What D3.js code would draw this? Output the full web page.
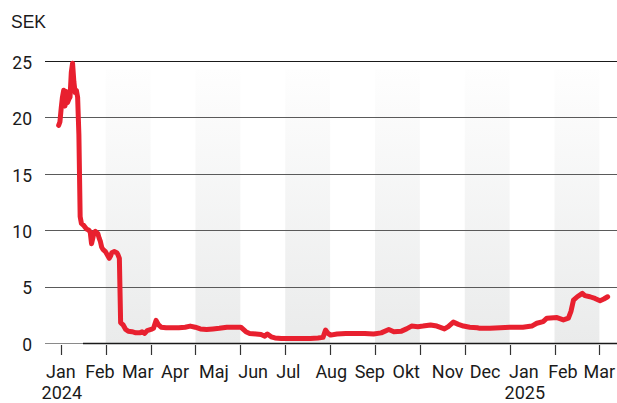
<!DOCTYPE html>
<html lang="sv">
<head>
  <meta charset="utf-8">
  <script src="https://d3js.org/d3.v7.min.js"></script>
  <style>
    body { margin: 0; background: #fff; }
    text { font-family: Roboto, "Liberation Sans", sans-serif; fill: #1a1a1a; }
  </style>
</head>
<body>
  <svg id="chart" width="617" height="403"></svg>
  <script>
    // kurs i SEK
    const dates = [
      "2024-01-11", "2024-01-12", "2024-01-13", "2024-01-14", "2024-01-15", "2024-01-16",
      "2024-01-17", "2024-01-18", "2024-01-19", "2024-01-20", "2024-01-21", "2024-01-22",
      "2024-01-23", "2024-01-24", "2024-01-25", "2024-01-26", "2024-01-27", "2024-01-28",
      "2024-01-29", "2024-01-31", "2024-02-02", "2024-02-04", "2024-02-05", "2024-02-06",
      "2024-02-07", "2024-02-08", "2024-02-09", "2024-02-11", "2024-02-12", "2024-02-13",
      "2024-02-14", "2024-02-15", "2024-02-17", "2024-02-18", "2024-02-20", "2024-02-21",
      "2024-02-22", "2024-02-24", "2024-02-26", "2024-02-27", "2024-02-28", "2024-02-29",
      "2024-03-01", "2024-03-02", "2024-03-04", "2024-03-06", "2024-03-09", "2024-03-12",
      "2024-03-15", "2024-03-17", "2024-03-19", "2024-03-21", "2024-03-24", "2024-03-26",
      "2024-03-28", "2024-03-30", "2024-04-01", "2024-04-05", "2024-04-10", "2024-04-15",
      "2024-04-20", "2024-04-24", "2024-04-28", "2024-05-02", "2024-05-07", "2024-05-12",
      "2024-05-17", "2024-05-23", "2024-05-29", "2024-06-03", "2024-06-05", "2024-06-07",
      "2024-06-10", "2024-06-15", "2024-06-19", "2024-06-22", "2024-06-24", "2024-06-27",
      "2024-06-30", "2024-07-05", "2024-07-12", "2024-07-20", "2024-07-28", "2024-08-03",
      "2024-08-07", "2024-08-09", "2024-08-11", "2024-08-13", "2024-08-18", "2024-08-25",
      "2024-09-02", "2024-09-09", "2024-09-16", "2024-09-22", "2024-09-28", "2024-10-02",
      "2024-10-08", "2024-10-12", "2024-10-16", "2024-10-21", "2024-10-25", "2024-10-31",
      "2024-11-05", "2024-11-11", "2024-11-14", "2024-11-18", "2024-11-22", "2024-11-26",
      "2024-12-01", "2024-12-07", "2024-12-09", "2024-12-17", "2024-12-25", "2025-01-02",
      "2025-01-12", "2025-01-19", "2025-01-23", "2025-01-28", "2025-01-31", "2025-02-08",
      "2025-02-13", "2025-02-17", "2025-02-19", "2025-02-21", "2025-02-24", "2025-02-28",
      "2025-03-02", "2025-03-06", "2025-03-10", "2025-03-14", "2025-03-17", "2025-03-20"
    ];
    const prices = [
      19.3, 19.6, 20.8, 21.8, 22.4, 21.0,
      22.3, 21.3, 21.6, 21.8, 24.0, 24.8,
      23.2, 22.2, 22.4, 21.8, 18.5, 11.2,
      10.6, 10.4, 10.1, 10.0, 9.8, 8.8,
      9.3, 9.8, 9.9, 9.7, 9.3, 9.0,
      8.5, 8.3, 8.1, 7.9, 7.5, 7.7,
      8.0, 8.1, 8.0, 7.8, 7.5, 1.8,
      1.7, 1.6, 1.2, 1.05, 1.0, 0.9,
      0.9, 1.0, 0.85, 1.1, 1.2, 1.3,
      2.0, 1.6, 1.4, 1.35, 1.35, 1.35,
      1.4, 1.5, 1.4, 1.25, 1.2, 1.25,
      1.3, 1.4, 1.4, 1.4, 1.2, 1.0,
      0.85, 0.8, 0.75, 0.6, 0.8, 0.55,
      0.45, 0.4, 0.4, 0.4, 0.4, 0.45,
      0.5, 1.15, 0.85, 0.7, 0.8, 0.85,
      0.85, 0.85, 0.8, 0.9, 1.2, 1.0,
      1.05, 1.25, 1.5, 1.45, 1.5, 1.6,
      1.5, 1.25, 1.45, 1.85, 1.65, 1.5,
      1.4, 1.35, 1.3, 1.3, 1.35, 1.4,
      1.4, 1.5, 1.75, 1.9, 2.2, 2.25,
      2.05, 2.2, 2.8, 3.8, 4.1, 4.4,
      4.2, 4.1, 3.95, 3.75, 3.9, 4.1
    ];
    const monthLabels = ["Jan", "Feb", "Mar", "Apr", "Maj", "Jun", "Jul", "Aug",
      "Sep", "Okt", "Nov", "Dec", "Jan", "Feb", "Mar"];
    const yearLabels = ["2024", "2025"];
    const yearAtMonth = [0, 12];
    const yTicks = [0, 5, 10, 15, 20, 25];
    const stripeCount = 12;

    const svg = d3.select("svg#chart");
    const width = +svg.attr("width");

    const parse = d3.timeParse("%Y-%m-%d");
    const data = dates.map((d, i) => ({ date: parse(d), value: prices[i] }));

    const x = d3.scaleTime()
      .domain([new Date(2024, 0, 1), new Date(2025, 2, 1)])
      .range([46, 583.6]);
    const y = d3.scaleLinear()
      .domain([0, 25])
      .range([343, 61]);
    // bakgrundsranderna ligger i jämn takt, oberoende av datumen
    const s = d3.scaleLinear()
      .domain([0, stripeCount])
      .range([60.8, 599.4]);

    const defs = svg.append("defs");
    const grad = defs.append("linearGradient")
      .attr("id", "stripe")
      .attr("x1", 0).attr("y1", 0).attr("x2", 0).attr("y2", 1);
    grad.append("stop").attr("offset", "0%").attr("stop-color", "#fefefe");
    grad.append("stop").attr("offset", "100%").attr("stop-color", "#eaebeb");

    // stripes
    svg.append("g")
      .selectAll("rect")
      .data(d3.range(1, stripeCount, 2))
      .join("rect")
      .attr("x", d => s(d))
      .attr("width", d => s(d + 1) - s(d))
      .attr("y", 69)
      .attr("height", y(0) - 69)
      .attr("fill", "url(#stripe)");

    // grid
    svg.append("g")
      .selectAll("line")
      .data(yTicks)
      .join("line")
      .attr("x1", 45)
      .attr("x2", width)
      .attr("y1", d => Math.round(y(d)) + 0.5)
      .attr("y2", d => Math.round(y(d)) + 0.5)
      .attr("stroke", d => d == 25 ? "#1a1a1a" : (d == 0 ? "#8a8a8a" : "#5a5a5a"))
      .attr("stroke-width", 1.2);

    svg.append("line")
      .attr("x1", 83)
      .attr("x2", width)
      .attr("y1", Math.round(y(0)) + 0.5)
      .attr("y2", Math.round(y(0)) + 0.5)
      .attr("stroke", "#1a1a1a")
      .attr("stroke-width", 1.4);

    svg.append("g")
      .selectAll("text")
      .data(yTicks)
      .join("text")
      .attr("x", 32)
      .attr("y", d => y(d) + 1.5)
      .attr("dy", "0.36em")
      .attr("text-anchor", "end")
      .attr("font-size", 17.5)
      .text(d => d);

    svg.append("text")
      .attr("x", 11)
      .attr("y", 27.5)
      .attr("font-size", 17.5)
      .style("font-family", "'Liberation Sans', Arial, sans-serif")
      .text("SEK");

    // tick marks
    svg.append("g")
      .selectAll("line")
      .data(d3.range(stripeCount + 1))
      .join("line")
      .attr("x1", d => Math.round(s(d)) + 0.5)
      .attr("x2", d => Math.round(s(d)) + 0.5)
      .attr("y1", 345)
      .attr("y2", 355)
      .attr("stroke", "#333")
      .attr("stroke-width", 1.2);

    const monthStarts = d3.timeMonth.range(new Date(2024, 0, 1), new Date(2025, 2, 2));
    const ml = svg.append("g")
      .selectAll("text")
      .data(monthLabels)
      .join("text")
      .attr("x", (d, i) => x(monthStarts[i]))
      .attr("y", 377.5)
      .attr("font-size", 18)
      .text(d => d);

    const nodes = ml.nodes();
    svg.append("g")
      .selectAll("text")
      .data(yearLabels)
      .join("text")
      .attr("x", (d, i) => {
        const m = yearAtMonth[i];
        return x(monthStarts[m]) + nodes[m].getComputedTextLength() / 2 + 1;
      })
      .attr("y", 398.5)
      .attr("text-anchor", "middle")
      .attr("font-size", 18)
      .text(d => d);

    const line = d3.line()
      .x(d => x(d.date))
      .y(d => y(d.value));

    svg.append("path")
      .datum(data)
      .attr("fill", "none")
      .attr("stroke", "#e8202f")
      .attr("stroke-width", 5)
      .attr("stroke-linejoin", "round")
      .attr("stroke-linecap", "round")
      .attr("d", line);
  </script>
</body>
</html>
